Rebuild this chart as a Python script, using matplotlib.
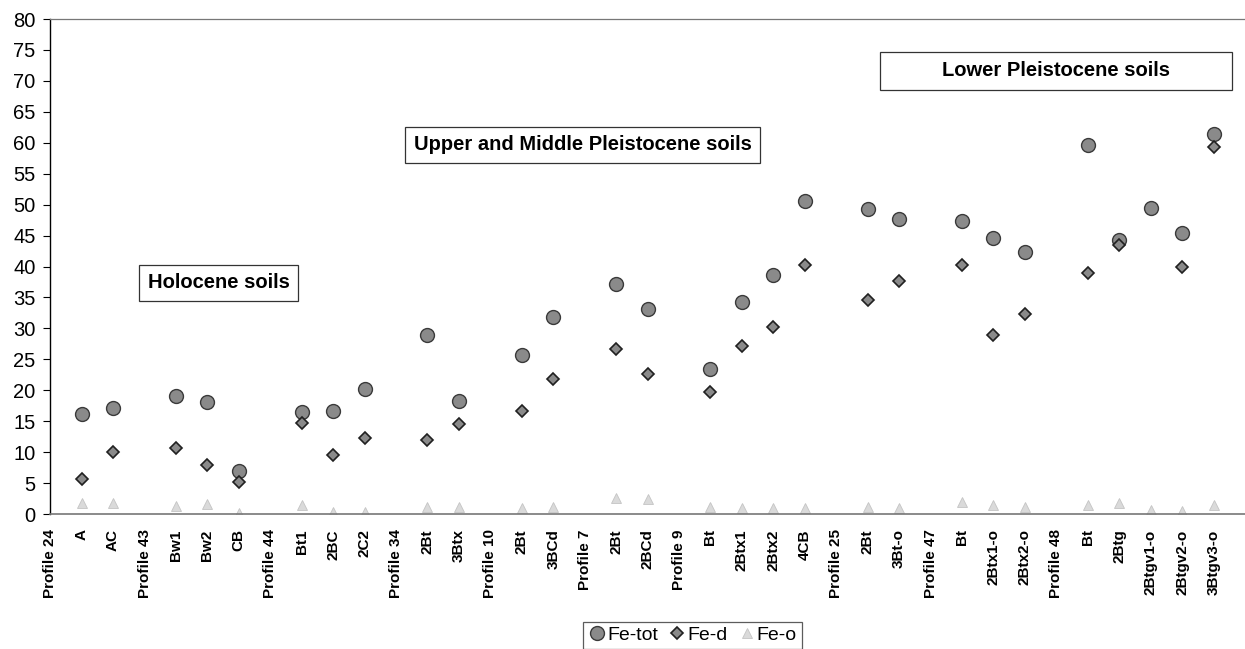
import numpy as np
import matplotlib.pyplot as plt
from matplotlib.patches import Rectangle

plt.rcParams["font.family"] = ["Liberation Sans", "DejaVu Sans"]

nan = np.nan

horizons = [
    "Profile 24", "A", "AC", "Profile 43", "Bw1", "Bw2", "CB", "Profile 44",
    "Bt1", "2BC", "2C2", "Profile 34", "2Bt", "3Btx", "Profile 10", "2Bt",
    "3BCd", "Profile 7", "2Bt", "2BCd", "Profile 9", "Bt", "2Btx1", "2Btx2",
    "4CB", "Profile 25", "2Bt", "3Bt-o", "Profile 47", "Bt", "2Btx1-o",
    "2Btx2-o", "Profile 48", "Bt", "2Btg", "2Btgv1-o", "2Btgv2-o", "3Btgv3-o",
]

fe_tot = [
    nan, 16.1, 17.2, nan, 19.0, 18.1, 7.0, nan,
    16.5, 16.7, 20.2, nan, 29.0, 18.2, nan, 25.7,
    31.9, nan, 37.1, 33.2, nan, 23.4, 34.2, 38.6,
    50.6, nan, 49.3, 47.6, nan, 47.3, 44.6,
    42.3, nan, 59.6, 44.3, 49.4, 45.4, 61.4,
]

fe_d = [
    nan, 5.6, 10.1, nan, 10.6, 8.0, 5.2, nan,
    14.7, 9.6, 12.3, nan, 12.0, 14.6, nan, 16.6,
    21.8, nan, 26.7, 22.7, nan, 19.7, 27.2, 30.2,
    40.2, nan, 34.6, 37.7, nan, 40.3, 29.0,
    32.3, nan, 38.9, 43.5, nan, 40.0, 59.3,
]

fe_o = [
    nan, 1.7, 1.7, nan, 1.3, 1.6, 0.2, nan,
    1.5, 0.4, 0.4, nan, 1.1, 1.2, nan, 1.0,
    1.1, nan, 2.6, 2.4, nan, 1.1, 1.0, 0.9,
    1.0, nan, 1.2, 0.9, nan, 2.0, 1.5,
    1.2, nan, 1.4, 1.7, 0.6, 0.5, 1.4,
]

x = np.arange(len(horizons))

fig = plt.figure(figsize=(12.45, 6.49), dpi=100)
ax = fig.add_axes([0.0398, 0.208, 0.9602, 0.7627])

ax.plot(x, fe_tot, linestyle="none", marker="o", markersize=10,
        markerfacecolor="#8a8a8a", markeredgecolor="#3a3a3a",
        markeredgewidth=1.0, label="Fe-tot", zorder=3)
ax.plot(x, fe_d, linestyle="none", marker="D", markersize=6.5,
        markerfacecolor="#8a8a8a", markeredgecolor="#202020",
        markeredgewidth=1.2, label="Fe-d", zorder=4)
ax.plot(x, fe_o, linestyle="none", marker="^", markersize=7.5,
        markerfacecolor="#dadada", markeredgecolor="#c4c4c4",
        markeredgewidth=0.6, label="Fe-o", zorder=2)

ax.set_xlim(-0.02, 38)
ax.set_ylim(0, 80)
ax.set_yticks(np.arange(0, 81, 5))
ax.tick_params(axis="y", labelsize=14.5, length=5, width=0.8, pad=5)
ax.tick_params(axis="x", length=0, pad=11)
ax.set_xticks(x)
ax.set_xticklabels(horizons, rotation=90, fontsize=11, fontweight="bold")

ax.spines["right"].set_visible(False)
ax.spines["left"].set_color("black")
ax.spines["left"].set_linewidth(1.0)
ax.spines["bottom"].set_color("#777777")
ax.spines["bottom"].set_linewidth(1.2)
ax.spines["top"].set_color("#777777")
ax.spines["top"].set_linewidth(0.9)

box = dict(boxstyle="square,pad=0.42", facecolor="white",
           edgecolor="#333333", linewidth=0.9)
ax.text(5.36, 37.4, "Holocene soils", fontsize=14.5, fontweight="bold",
        ha="center", va="center", bbox=box)
ax.text(16.93, 59.7, "Upper and Middle Pleistocene soils", fontsize=14.5,
        fontweight="bold", ha="center", va="center", bbox=box)

# wide frame around the last group label
ax.add_patch(Rectangle((26.4, 68.6), 11.2, 6.1, facecolor="white",
                       edgecolor="#333333", linewidth=0.9, zorder=5))
ax.text(32.0, 71.7, "Lower Pleistocene soils", fontsize=14.5,
        fontweight="bold", ha="center", va="center", zorder=6)

leg = fig.legend(loc="upper center", bbox_to_anchor=(0.556, 0.057),
                 ncol=3, fontsize=14, frameon=True, fancybox=False,
                 handletextpad=0.0, columnspacing=0.5, handlelength=1.0,
                 borderpad=0.25, edgecolor="#333333")
leg.get_frame().set_linewidth(0.9)

fig.savefig("out.png", dpi=100)
